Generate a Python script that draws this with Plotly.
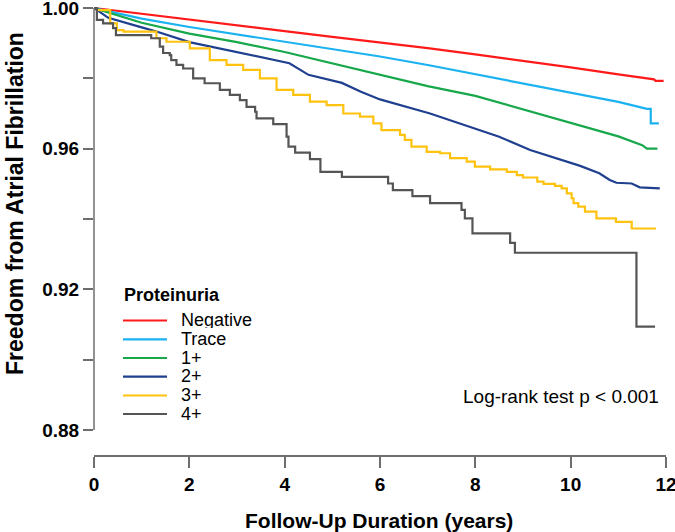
import plotly.graph_objects as go

# ---------------- data ----------------
group_names = ["Negative", "Trace", "1+", "2+", "3+", "4+"]
group_colors = ["#ff1a1a", "#1ab2f0", "#16a84a", "#1f3f8f", "#ffc20e", "#555555"]

neg_t = [0, 1, 2, 3, 4, 5, 6, 7, 8, 9, 10, 11, 11.75, 11.78, 11.95]
neg_s = [1.0, 0.9983, 0.9966, 0.9950, 0.9934, 0.9918, 0.9903, 0.9886, 0.9868, 0.9850, 0.9831, 0.9811, 0.9797, 0.9793, 0.9793]

trace_t = [0, 0.5, 1, 2, 3, 4, 5, 6, 7, 8, 9, 10, 11, 11.6, 11.68, 11.68, 11.85]
trace_s = [1.0, 0.9985, 0.9970, 0.9946, 0.9925, 0.9904, 0.9884, 0.9862, 0.9838, 0.9812, 0.9784, 0.9758, 0.9733, 0.9713, 0.9713, 0.9672, 0.9672]

p1_t = [0, 0.5, 1, 2, 3, 4, 5, 6, 7, 8, 9, 10, 11, 11.5, 11.6, 11.82]
p1_s = [1.0, 0.9978, 0.9958, 0.9927, 0.9903, 0.9875, 0.9843, 0.9809, 0.9778, 0.9750, 0.9712, 0.9675, 0.9635, 0.9610, 0.9600, 0.9600]

p2_t = [0, 0.3, 1, 1.31, 2, 2.71, 3.4, 4.1, 4.5, 5.2, 5.6, 6.0, 7.05, 7.5, 8.1, 8.5, 9.15, 9.8, 10.2, 10.6, 10.82, 10.96, 11.28, 11.45, 11.87]
p2_s = [1.0, 0.9972, 0.9945, 0.9933, 0.9903, 0.9882, 0.9862, 0.9843, 0.9810, 0.9787, 0.9762, 0.9740, 0.9700, 0.9680, 0.9652, 0.9634, 0.9596, 0.9568, 0.9551, 0.9530, 0.9511, 0.9503, 0.9501, 0.9490, 0.9487]

p3_t = [0, 0.06, 0.34, 0.48, 0.62, 1.31, 1.52, 2.01, 2.43, 2.78, 3.13, 3.48, 3.83, 4.18, 4.53, 4.88, 5.23, 5.58, 5.86, 6.03, 6.42, 6.52, 6.66, 6.98, 7.26, 7.47, 7.82, 7.99, 8.31, 8.66, 8.87, 9.0, 9.3, 9.43, 9.67, 9.81, 9.92, 10.02, 10.06, 10.16, 10.3, 10.54, 10.95, 11.28, 11.79]
p3_s = [1.0, 0.9994, 0.9956, 0.9937, 0.9933, 0.9914, 0.9904, 0.9885, 0.9852, 0.9838, 0.9824, 0.9800, 0.9767, 0.9753, 0.9734, 0.9724, 0.9700, 0.9691, 0.9672, 0.9653, 0.9639, 0.9625, 0.9606, 0.9591, 0.9587, 0.9573, 0.9563, 0.9549, 0.9541, 0.9534, 0.9525, 0.9518, 0.9506, 0.9500, 0.9494, 0.9487, 0.9473, 0.9459, 0.9445, 0.9435, 0.9421, 0.9402, 0.9392, 0.9373, 0.9373]

p4_t = [0, 0.06, 0.19, 0.40, 0.46, 1.20, 1.38, 1.45, 1.59, 1.62, 1.73, 1.87, 2.08, 2.32, 2.64, 2.85, 3.06, 3.20, 3.38, 3.41, 3.76, 4.04, 4.08, 4.22, 4.53, 4.75, 5.20, 6.17, 6.27, 6.68, 7.05, 7.71, 7.78, 7.94, 8.73, 8.83, 11.38, 11.77]
p4_s = [1.0, 0.9966, 0.9956, 0.9943, 0.9923, 0.9914, 0.9890, 0.9872, 0.9866, 0.9852, 0.9838, 0.9828, 0.9800, 0.9786, 0.9767, 0.9753, 0.9738, 0.9719, 0.9705, 0.9686, 0.9670, 0.9634, 0.9606, 0.9589, 0.9570, 0.9534, 0.9520, 0.9501, 0.9482, 0.9465, 0.9445, 0.9426, 0.9402, 0.9359, 0.9332, 0.9304, 0.9094, 0.9094]

x_ticks = [0, 2, 4, 6, 8, 10, 12]
y_ticks = [0.88, 0.90, 0.92, 0.94, 0.96, 0.98, 1.00]
y_ticktext = ["0.88", "", "0.92", "", "0.96", "", "1.00"]

x_title = "Follow-Up Duration (years)"
y_title = "Freedom from Atrial Fibrillation"
legend_title = "Proteinuria"
test_text = "Log-rank test p < 0.001"

series = [(neg_t, neg_s, "linear"), (trace_t, trace_s, "linear"), (p1_t, p1_s, "linear"),
          (p2_t, p2_s, "linear"), (p3_t, p3_s, "hv"), (p4_t, p4_s, "hv")]

# ---------------- layout geometry ----------------
W, H = 675, 532
L, R, T, B = 94, 9, 2, 77
pw, ph = W - L - R, H - T - B


def px(xpix):
    return (xpix - L) / pw


def py(ypix):
    return (H - B - ypix) / ph


FONT = "Arial, Liberation Sans, Helvetica, sans-serif"

fig = go.Figure()
for (t, s, shape), name, col in zip(series, group_names, group_colors):
    fig.add_trace(go.Scatter(x=t, y=s, mode="lines", name=name, showlegend=False,
                             line=dict(color=col, width=2.2, shape=shape)))

fig.update_layout(
    width=W, height=H,
    margin=dict(l=L, r=R, t=T, b=B, autoexpand=False),
    paper_bgcolor="white", plot_bgcolor="white",
    font=dict(family=FONT, color="black"),
    showlegend=False,
    xaxis=dict(range=[0, 12], tickvals=x_ticks, ticks="outside", ticklen=11, tickwidth=1.5,
               tickcolor="#6e6e6e", showline=True, linecolor="#6e6e6e", linewidth=1.5,
               showgrid=False, zeroline=False, automargin=False, ticklabeloverflow="allow",
               tickfont=dict(family=FONT, size=19, color="black", weight="bold")),
    yaxis=dict(range=[0.872891, 1.001706], tickvals=y_ticks, ticktext=y_ticktext,
               ticks="outside", ticklen=10, tickwidth=1.5, tickcolor="#6e6e6e",
               showline=False, showgrid=False, zeroline=False, automargin=False,
               ticklabeloverflow="allow",
               tickfont=dict(family=FONT, size=19, color="black", weight="bold")),
)

# y axis line only between 0.88 and 1.00
fig.add_shape(type="line", xref="paper", x0=0, x1=0, yref="y", y0=y_ticks[0], y1=y_ticks[-1],
              line=dict(color="#6e6e6e", width=1.5))

# axis titles
fig.add_annotation(text=f"<b>{x_title}</b>", xref="paper", yref="paper", x=px(379), y=py(520),
                   showarrow=False, font=dict(family=FONT, size=21, color="black"),
                   xanchor="center", yanchor="middle")
fig.add_annotation(text=f"<b>{y_title}</b>", xref="paper", yref="paper", x=px(15), y=py(204),
                   showarrow=False, textangle=-90, font=dict(family=FONT, size=23, color="black"),
                   xanchor="center", yanchor="middle")

# log-rank text
fig.add_annotation(text=test_text, xref="paper", yref="paper", x=px(461), y=py(396),
                   showarrow=False, font=dict(family=FONT, size=19, color="black"),
                   xanchor="left", yanchor="middle")

# manual legend
fig.add_annotation(text=f"<b>{legend_title}</b>", xref="paper", yref="paper", x=px(122), y=py(295),
                   showarrow=False, font=dict(family=FONT, size=18, color="black"),
                   xanchor="left", yanchor="middle")
row_y = [320.5, 339.3, 358.0, 376.7, 395.5, 414.0]
for name, col, ry in zip(group_names, group_colors, row_y):
    fig.add_shape(type="line", xref="paper", yref="paper", x0=px(123), x1=px(167),
                  y0=py(ry), y1=py(ry), line=dict(color=col, width=2.2))
    fig.add_annotation(text=name, xref="paper", yref="paper", x=px(179), y=py(ry - 1),
                       showarrow=False, font=dict(family=FONT, size=18, color="black"),
                       xanchor="left", yanchor="middle", height=17, valign="middle")

fig.write_html("out.html", config={"displayModeBar": False},
               post_script="document.body.style.margin='0';document.body.style.overflow='hidden';")
